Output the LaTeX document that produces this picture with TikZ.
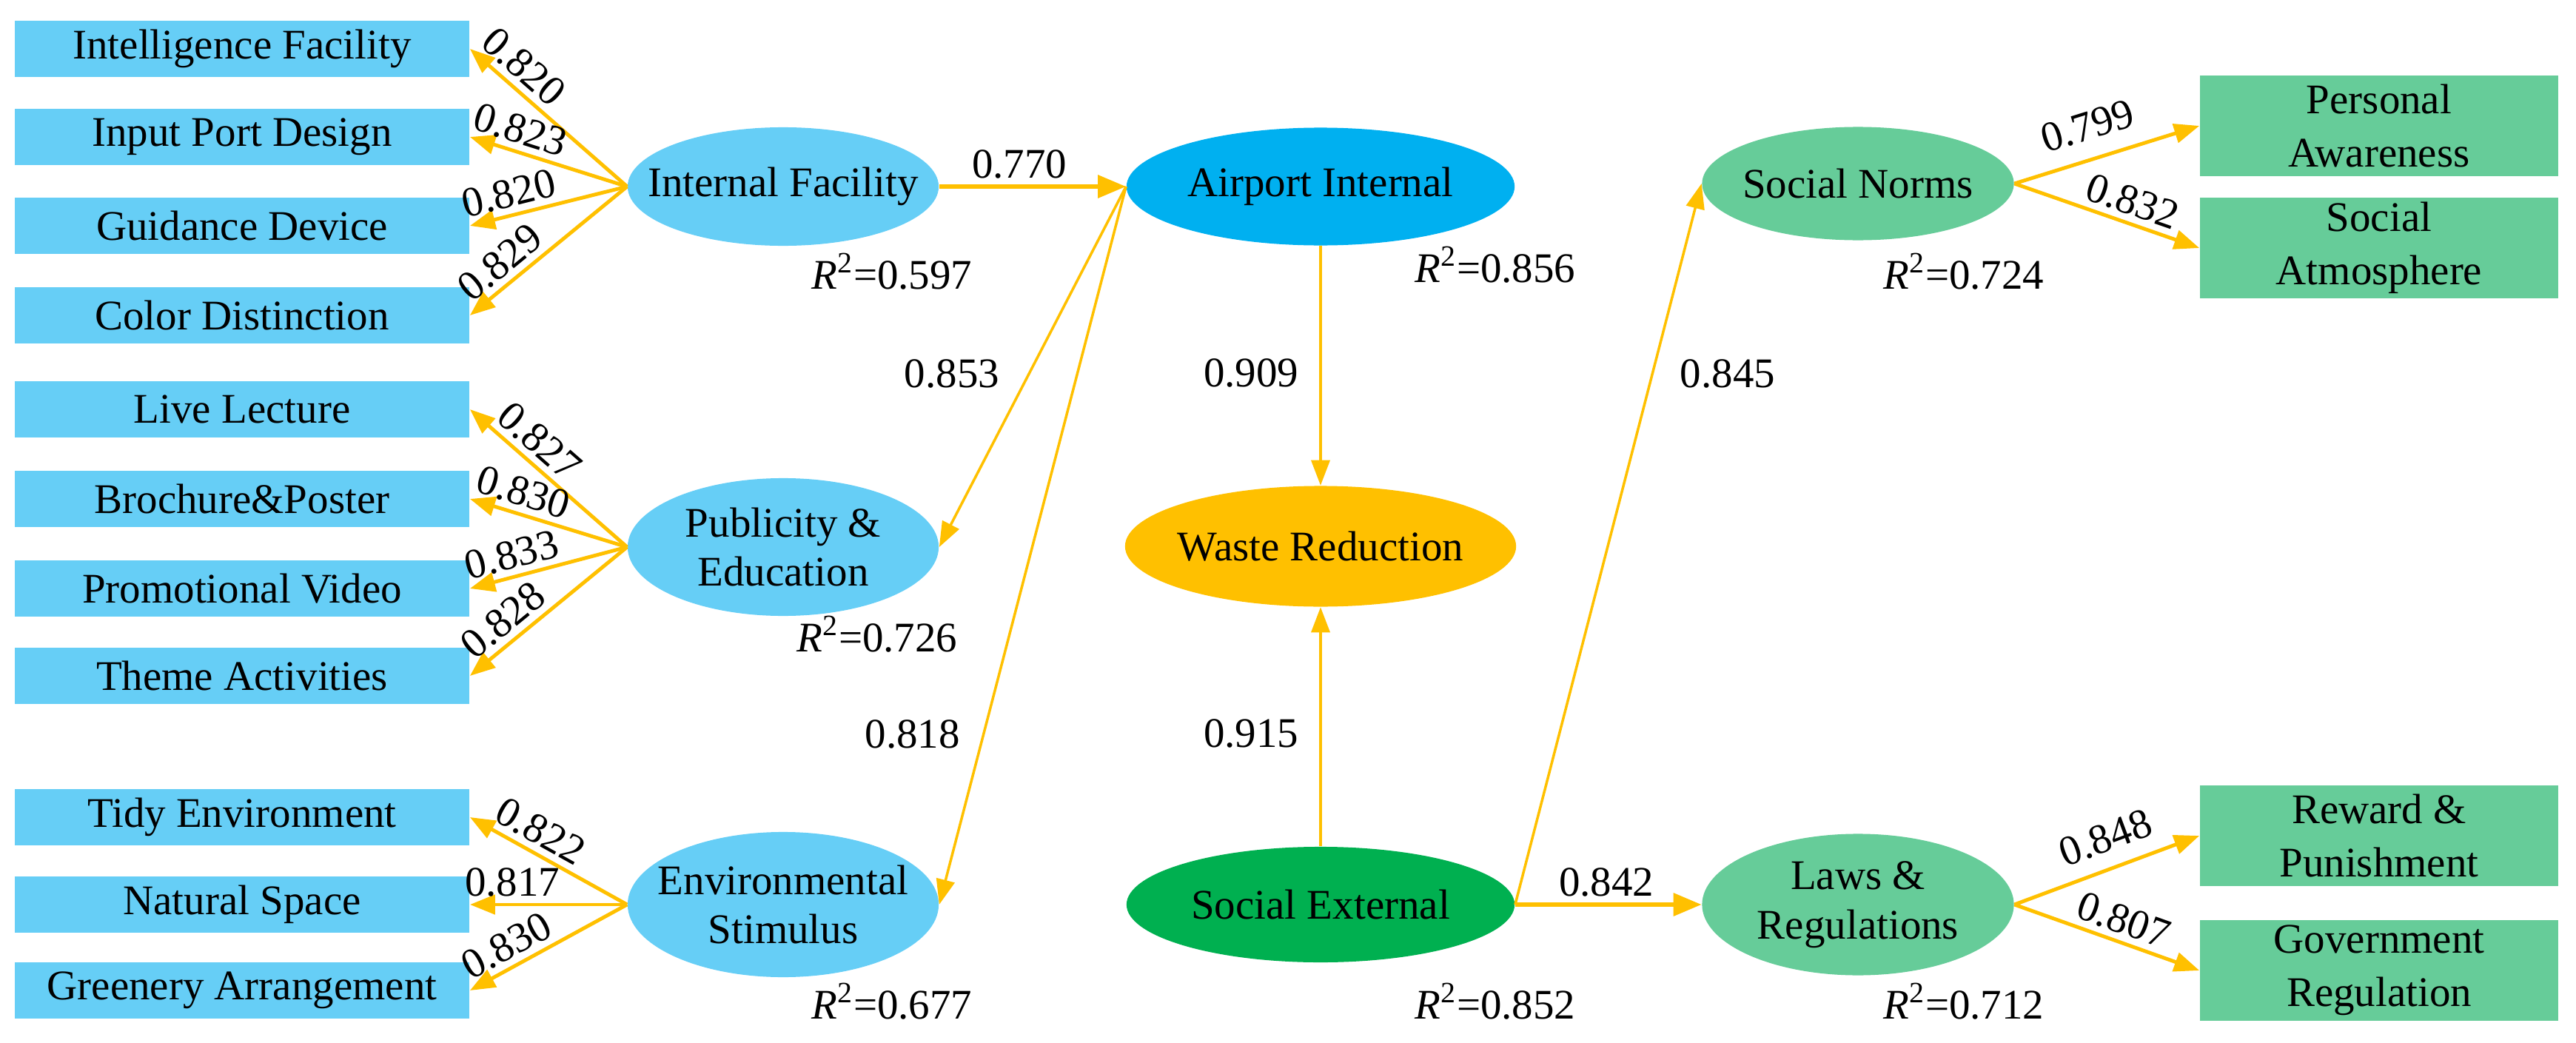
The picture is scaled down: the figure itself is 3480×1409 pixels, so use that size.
\documentclass[tikz,border=0pt]{standalone}
\usepackage{fontspec}
\setmainfont{Liberation Serif}
\usetikzlibrary{shapes.geometric,arrows.meta}
\definecolor{lblue}{HTML}{66CEF6}
\definecolor{airblue}{HTML}{00B0F0}
\definecolor{gold}{HTML}{FFC000}
\definecolor{dgreen}{HTML}{00B050}
\definecolor{lgreen}{HTML}{66CC99}
\begin{document}
\begin{tikzpicture}[x=0.01cm,y=-0.01cm,
  txt/.style={font=\fontsize{16.2}{19}\selectfont, inner sep=0pt, align=center},
  lbox/.style={rectangle, fill=lblue, minimum width=6.14cm, minimum height=0.76cm, inner sep=0pt, font=\fontsize{16.2}{19}\selectfont},
  gbox/.style={rectangle, fill=lgreen, minimum width=4.84cm, minimum height=1.36cm, inner sep=0pt, align=center, font=\fontsize{16.2}{20.5}\selectfont},
  ell/.style n args={3}{ellipse, fill=#3, minimum width=#1, minimum height=#2, inner sep=0pt},
  lab/.style={font=\fontsize{16.2}{19}\selectfont, inner sep=0.08cm},
  rsq/.style={font=\fontsize{16.2}{19}\selectfont, inner sep=0pt},
  load/.style={draw=gold, line width=1.4pt, -{Triangle[length=0.34cm,width=0.26cm]}},
  hpath/.style={draw=gold, line width=1.8pt, -{Triangle[length=0.38cm,width=0.3cm]}},
  tpath/.style={draw=gold, line width=1.0pt, -{Triangle[length=0.34cm,width=0.25cm]}}
]
\useasboundingbox (0,0) rectangle (3480,1409);

% left indicator boxes
\node[lbox] (b1) at (327,66) {Intelligence Facility};
\node[lbox] (b2) at (327,185) {Input Port Design};
\node[lbox] (b3) at (327,305) {Guidance Device};
\node[lbox] (b4) at (327,426) {Color Distinction};
\node[lbox] (b5) at (327,553) {Live Lecture};
\node[lbox] (b6) at (327,674) {Brochure\&Poster};
\node[lbox] (b7) at (327,795) {Promotional Video};
\node[lbox] (b8) at (327,913) {Theme Activities};
\node[lbox] (b9) at (327,1104) {Tidy Environment};
\node[lbox] (b10) at (327,1222) {Natural Space};
\node[lbox] (b11) at (327,1338) {Greenery Arrangement};

% right indicator boxes
\node[gbox] (g1) at (3214,170) {Personal\\Awareness};
\node[gbox] (g2) at (3214,335) {Social\\Atmosphere};
\node[gbox] (g3) at (3214,1129) {Reward \&\\Punishment};
\node[gbox] (g4) at (3214,1311) {Government\\Regulation};

% latent variables
\node[ell={4.2cm}{1.6cm}{lblue}] (intf) at (1058,252) {};
\node[txt] (intft) at (intf.center) {Internal Facility};
\node[ell={4.2cm}{1.86cm}{lblue}] (pub) at (1058,739) {};
\node[txt] (pubt) at (pub.center) {Publicity \&\\Education};
\node[ell={4.2cm}{1.96cm}{lblue}] (env) at (1058,1222) {};
\node[txt] (envt) at (env.center) {Environmental\\Stimulus};
\node[ell={5.24cm}{1.59cm}{airblue}] (air) at (1784,252) {};
\node[txt] (airt) at (air.center) {Airport Internal};
\node[ell={5.28cm}{1.63cm}{gold}] (waste) at (1784,738) {};
\node[txt] (wastet) at (waste.center) {Waste Reduction};
\node[ell={5.24cm}{1.56cm}{dgreen}] (sext) at (1784,1222) {};
\node[txt] (sextt) at (sext.center) {Social External};
\node[ell={4.21cm}{1.53cm}{lgreen}] (norms) at (2510,248) {};
\node[txt] (normst) at (norms.center) {Social Norms};
\node[ell={4.21cm}{1.91cm}{lgreen}] (laws) at (2510,1222) {};
\node[txt] (lawst) at (laws.center) {Laws \&\\Regulations};

% R squared
\node[rsq] (r1) at (1205,367) {\textit{R}\textsuperscript{2}=0.597};
\node[rsq] (r2) at (1185,857) {\textit{R}\textsuperscript{2}=0.726};
\node[rsq] (r3) at (1205,1353) {\textit{R}\textsuperscript{2}=0.677};
\node[rsq] (r4) at (2020,358) {\textit{R}\textsuperscript{2}=0.856};
\node[rsq] (r5) at (2653,367) {\textit{R}\textsuperscript{2}=0.724};
\node[rsq] (r6) at (2020,1353) {\textit{R}\textsuperscript{2}=0.852};
\node[rsq] (r7) at (2653,1353) {\textit{R}\textsuperscript{2}=0.712};

% loadings left
\draw[load] (intf.west) -- node[lab,sloped,above,pos=0.75] {0.820} (b1.east);
\draw[load] (intf.west) -- node[lab,sloped,above,pos=0.72] {0.823} (b2.east);
\draw[load] (intf.west) -- node[lab,sloped,above,pos=0.72] {0.820} (b3.east);
\draw[load] (intf.west) -- node[lab,sloped,above,pos=0.72] {0.829} (b4.east);
\draw[load] (pub.west) -- node[lab,sloped,above,pos=0.65] {0.827} (b5.east);
\draw[load] (pub.west) -- node[lab,sloped,above,pos=0.70] {0.830} (b6.east);
\draw[load] (pub.west) -- node[lab,sloped,above,pos=0.70] {0.833} (b7.east);
\draw[load] (pub.west) -- node[lab,sloped,above,pos=0.70] {0.828} (b8.east);
\draw[load] (env.west) -- node[lab,sloped,above,pos=0.62] {0.822} (b9.east);
\draw[load] (env.west) -- node[lab,above,pos=0.73] {0.817} (b10.east);
\draw[load] (env.west) -- node[lab,sloped,above,pos=0.70] {0.830} (b11.east);

% loadings right
\draw[load] (norms.east) -- node[lab,sloped,above=0.15cm,pos=0.45] {0.799} (g1.west);
\draw[load] (norms.east) -- node[lab,sloped,above,pos=0.6] {0.832} (g2.west);
\draw[load] (laws.east) -- node[lab,sloped,above=0.12cm,pos=0.55] {0.848} (g3.west);
\draw[load] (laws.east) -- node[lab,sloped,above,pos=0.55] {0.807} (g4.west);

% structural paths
\draw[hpath] (intf.east) -- node[lab,above,pos=0.43] {0.770} (air.west);
\draw[tpath] (air.west) -- node[lab,left=0.3cm,pos=0.52] {0.853} (pub.east);
\draw[tpath] (air.west) -- node[lab,left=0.22cm,pos=0.763] {0.818} (env.east);
\draw[tpath] (air.south) -- node[lab,left=0.2cm,pos=0.53] {0.909} (waste.north);
\draw[tpath] (sext.north) -- node[lab,left=0.2cm,pos=0.47] {0.915} (waste.south);
\draw[tpath] (sext.east) -- node[lab,right=0.28cm,pos=0.736] {0.845} (norms.west);
\draw[hpath] (sext.east) -- node[lab,above,pos=0.49] {0.842} (laws.west);
\end{tikzpicture}
\end{document}
